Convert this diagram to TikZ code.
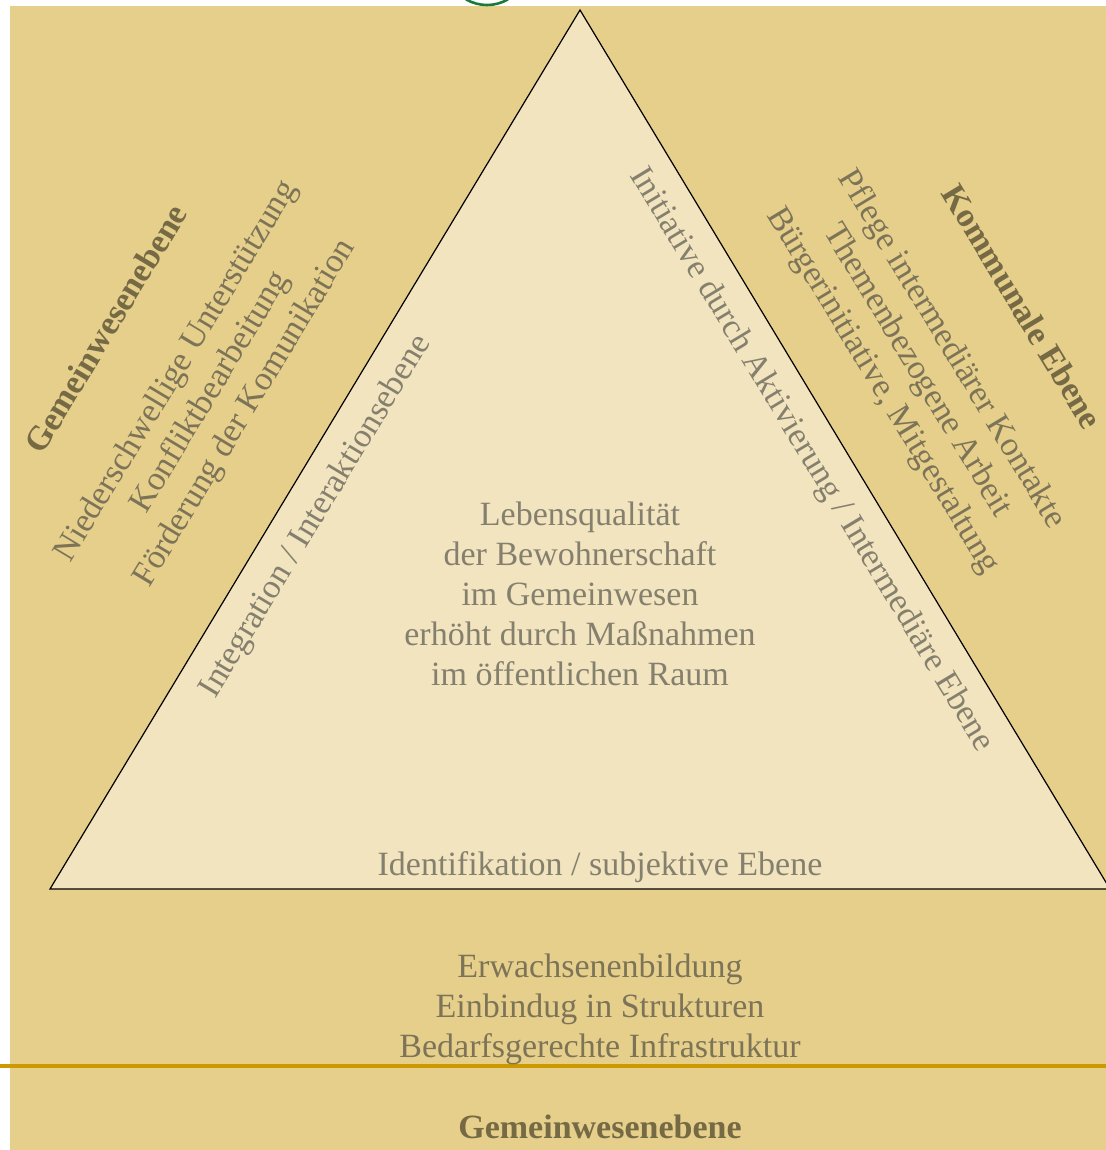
\documentclass[tikz,border=0pt]{standalone}
\usepackage{fontspec}
\setmainfont{Liberation Serif}
\definecolor{tanbg}{HTML}{E5CF8B}
\definecolor{trifill}{HTML}{F1E4BF}
\definecolor{intext}{HTML}{85806E}
\definecolor{outtext}{HTML}{7D7458}
\definecolor{boldtext}{HTML}{766A45}
\definecolor{rule}{HTML}{CC9900}
\definecolor{logo}{HTML}{1A7A3A}
\begin{document}
\begin{tikzpicture}[x=0.5pt,y=-0.5pt,
  lbl/.style={font=\fontsize{17}{20}\selectfont, inner sep=0pt, anchor=base},
  inner/.style={lbl, text=intext},
  outer/.style={lbl, text=outtext},
  head/.style={lbl, text=boldtext, font=\fontsize{17}{20}\selectfont\bfseries},
  tri/.style={draw=black, line width=0.6pt, fill=trifill}]
\useasboundingbox (0,0) rectangle (1106,1150);
\fill[white] (0,0) rectangle (1106,1150);
\fill[tanbg] (10,6) rectangle (1106,1150);

% logo ring, only its lower rim shows
\begin{scope}
  \clip (0,0) rectangle (1106,1150);
  \draw[logo, line width=1.3pt] (508,-0.6) arc[start angle=60, end angle=120, radius=42];
\end{scope}

% the triangle of levels
\coordinate (apex) at (580,10);
\coordinate (bl) at (50,889);
\coordinate (br) at (1110,889);
\draw[tri] (apex) -- (bl) -- (br) -- cycle;

% dividing rule
\coordinate (ruleL) at (0,1066);
\coordinate (ruleR) at (1106,1066);
\draw[rule, line width=2pt] (ruleL) -- (ruleR);

% centre of the triangle
\node[inner] (c1) at (580,525) {Lebensqualität};
\node[inner] (c2) at (580,565) {der Bewohnerschaft};
\node[inner] (c3) at (580,605) {im Gemeinwesen};
\node[inner] (c4) at (580,645) {erhöht durch Maßnahmen};
\node[inner] (c5) at (580,685) {im öffentlichen Raum};

% labels along the sides inside
\node[inner, rotate=58.9] (sideL) at (323,521) {Integration / Interaktionsebene};
\node[inner, rotate=-58.9] (sideR) at (804,464) {Initiative durch Aktivierung / Intermediäre Ebene};
\node[inner] (sideB) at (600,875) {Identifikation / subjektive Ebene};

% left block
\node[head, rotate=58.9] (l0) at (115.5,334.6) {Gemeinwesenebene};
\node[outer, rotate=58.9] (l1) at (184,376) {Niederschwellige Unterstützung};
\node[outer, rotate=58.9] (l2) at (218.2,396.7) {Konfliktbearbeitung};
\node[outer, rotate=58.9] (l3) at (252.5,417.4) {Förderung der Komunikation};

% right block
\node[head, rotate=-58.9] (r0) at (1012.5,312.6) {Kommunale Ebene};
\node[outer, rotate=-58.9] (r1) at (944,354) {Pflege intermediärer Kontakte};
\node[outer, rotate=-58.9] (r2) at (909.8,374.7) {Themenbezogene Arbeit};
\node[outer, rotate=-58.9] (r3) at (875.5,395.4) {Bürgerinitiative, Mitgestaltung};

% bottom block
\node[outer] (b1) at (600,977) {Erwachsenenbildung};
\node[outer] (b2) at (600,1017) {Einbindug in Strukturen};
\node[outer] (b3) at (600,1057) {Bedarfsgerechte Infrastruktur};
\node[head] (b0) at (600,1138) {Gemeinwesenebene};
\end{tikzpicture}
\end{document}
